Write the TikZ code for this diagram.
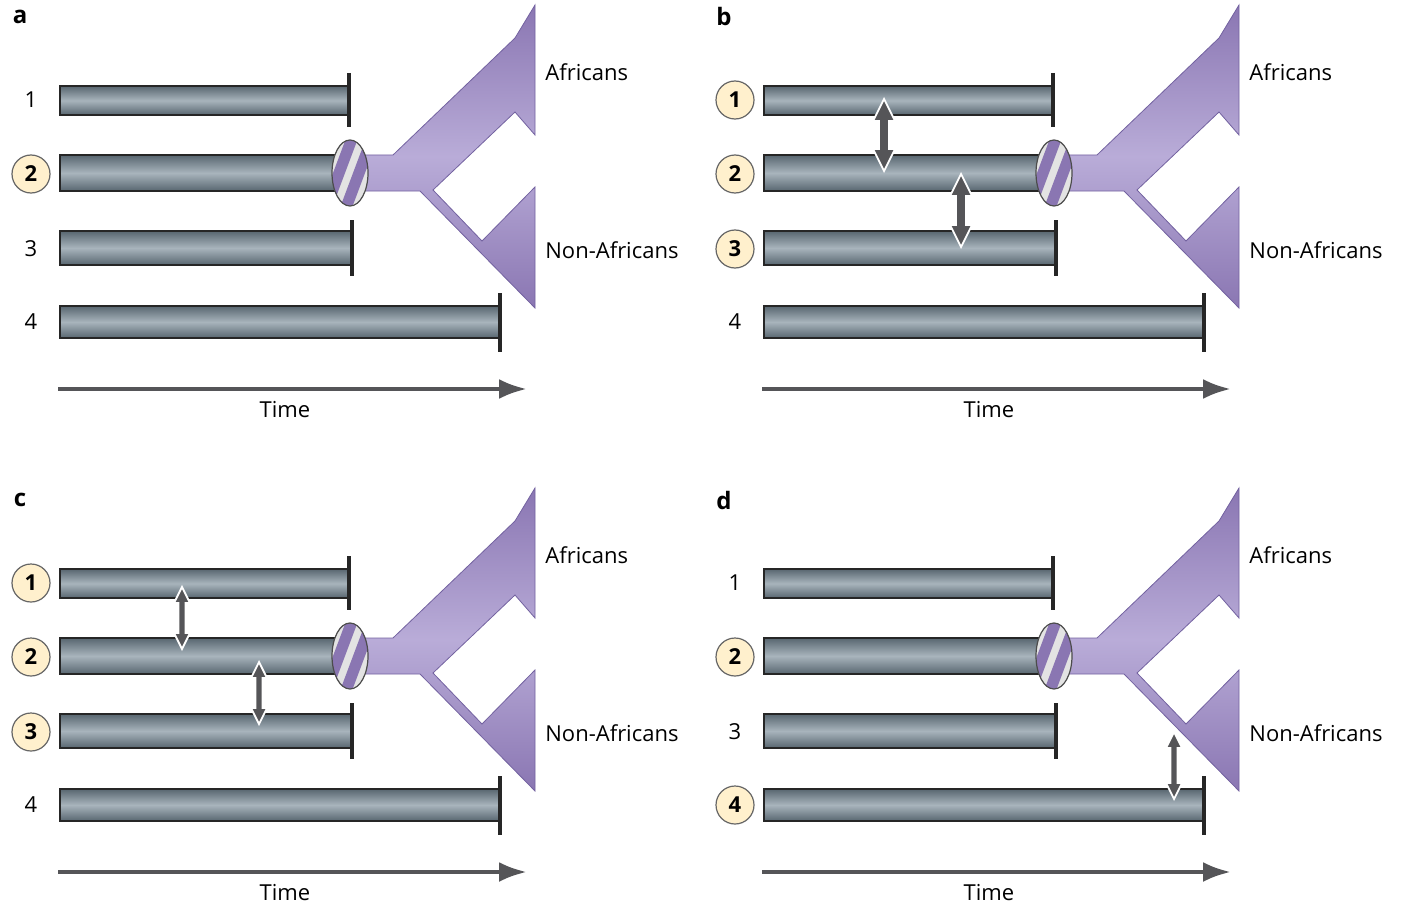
\documentclass[tikz,border=0pt]{standalone}
\usepackage{fontspec}
\setmainfont{Open Sans}
\definecolor{barD}{RGB}{88,102,112}
\definecolor{barL}{RGB}{168,180,188}
\definecolor{purp}{RGB}{138,118,178}
\definecolor{purpM}{RGB}{185,172,216}
\definecolor{purpD}{RGB}{115,98,160}
\definecolor{cream}{RGB}{255,240,205}
\definecolor{arr}{RGB}{85,85,88}
\tikzset{
  bar/.style={draw=black!85,line width=0.6pt,top color=barD,bottom color=barD,middle color=barL,shading angle=0},
  tick/.style={line width=1.6pt,black!85},
  lab/.style={font=\fontsize{11}{13}\selectfont,anchor=west,inner sep=0pt},
  num/.style={font=\fontsize{11}{13}\selectfont,inner sep=0pt},
  cnum/.style={circle,draw=black!60,fill=cream,line width=0.6pt,minimum size=19pt,inner sep=0pt,font=\fontsize{11}{13}\selectfont\bfseries},
  letter/.style={font=\fontsize{12}{14}\selectfont\bfseries,inner sep=0pt},
  fat/.style={fill=arr,draw=white,line width=0.9pt,line join=miter}
}
\newcommand\panel[3]{%
\begin{scope}[shift={(#1,#2)}]
\node[letter] (#3let) at (20,17) {#3};
\path[bar] (60,86) rectangle (349,115);
\path[bar] (60,155) rectangle (348,191);
\path[bar] (60,231) rectangle (352,265);
\path[bar] (60,306) rectangle (500,338);
\draw[tick] (349,73) -- (349,127);
\draw[tick] (352,220) -- (352,276);
\draw[tick] (500,293) -- (500,352);
\path[top color=purp,bottom color=purp,middle color=purpM,shading angle=0,draw=purpD,line width=0.4pt]
 (365,155) -- (393,155) -- (515,38) -- (535,5) -- (535,135) -- (515,112) -- (433,190) -- (482,241) -- (535,187) -- (535,308) -- (420,191) -- (365,191) -- cycle;
\begin{scope}
\clip (350,173) ellipse [x radius=18, y radius=33];
\fill[gray!22] (330,135) rectangle (370,210);
\foreach \k in {-2,...,2}{
  \fill[purp] ($(350,173)+(\k*20,0)+(-12,40)$) -- ++(12,0) -- ++(30,-80) -- ++(-12,0) -- cycle;}
\end{scope}
\draw[black!70,line width=0.6pt] (350,173) ellipse [x radius=18, y radius=33];
\node[lab] (#3af) at (545,72) {Africans};
\node[lab] (#3naf) at (545,250) {Non-Africans};
\coordinate (#3t0) at (58,389);
\coordinate (#3t1) at (527,389);
\draw[arr,line width=2.2pt,-{Latex[length=14pt,width=10pt,open,fill=arr]}] (#3t0) -- (#3t1);
\node[num] (#3time) at (285,410) {Time};
\end{scope}}
\newcommand\nums[6]{%
\begin{scope}[shift={(#1,#2)}]
\node[#3] at (31,100) {1};
\node[#4] at (31,174) {2};
\node[#5] at (31,249) {3};
\node[#6] at (31,322) {4};
\end{scope}}
\newcommand\fatarrow[5]{%
\path[fat] (#1,#2) -- (#1+#4,#2+2*#4) -- (#1+#5,#2+2*#4) -- (#1+#5,#3-2*#4) -- (#1+#4,#3-2*#4) -- (#1,#3) -- (#1-#4,#3-2*#4) -- (#1-#5,#3-2*#4) -- (#1-#5,#2+2*#4) -- (#1-#4,#2+2*#4) -- cycle;}
\usetikzlibrary{calc,arrows.meta}
\begin{document}
\begin{tikzpicture}[x=0.5pt,y=-0.5pt]
\useasboundingbox (0,0) rectangle (1424,915);
\panel{0}{0}{a}
\panel{704}{0}{b}
\panel{0}{483}{c}
\panel{704}{483}{d}
\nums{0}{0}{num}{cnum}{num}{num}
\nums{704}{0}{cnum}{cnum}{cnum}{num}
\nums{0}{483}{cnum}{cnum}{cnum}{num}
\nums{704}{483}{num}{cnum}{num}{cnum}
\fatarrow{884}{99}{171}{11}{5}
\fatarrow{961}{174}{247}{11}{5}
\fatarrow{182}{587}{649}{8}{3.5}
\fatarrow{259}{662}{724}{8}{3.5}
\fatarrow{1174}{732}{799}{8}{3.5}
\end{tikzpicture}
\end{document}
